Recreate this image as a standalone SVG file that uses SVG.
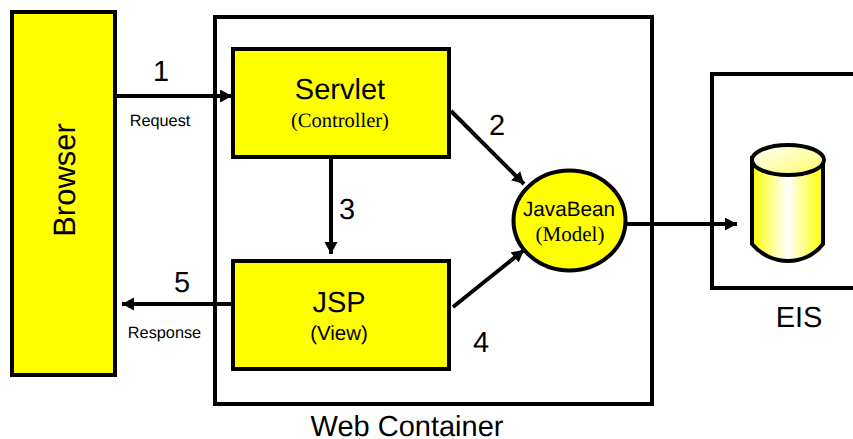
<svg xmlns="http://www.w3.org/2000/svg" width="853" height="439" viewBox="0 0 853 439">
<style>
.box{fill:#ff0;stroke:#000;stroke-width:4}
.frame{fill:none;stroke:#000;stroke-width:4}
.line{fill:none;stroke:#000;stroke-width:4}
text{font-family:"Liberation Sans",Arial,sans-serif;fill:#000;text-anchor:middle;text-rendering:geometricPrecision}
.serif{font-family:"Liberation Serif","Times New Roman",serif}
.big{font-size:29px}
.n{font-size:29px}
.small{font-size:16.3px}
</style>
<defs>
<linearGradient id="cyl" x1="0" x2="1" y1="0" y2="0">
<stop offset="0" stop-color="#ff0"/><stop offset="0.5" stop-color="#fff"/><stop offset="1" stop-color="#ff0"/>
</linearGradient>
<linearGradient id="cyltop" x1="0" x2="1" y1="0" y2="1">
<stop offset="0" stop-color="#fff"/><stop offset="1" stop-color="#ffff66"/>
</linearGradient>
<marker id="arr" markerUnits="userSpaceOnUse" markerWidth="14" markerHeight="14" refX="12" refY="6.5" orient="auto">
<path d="M0 0L12 6.5L0 13z" fill="#000"/>
</marker>
</defs>
<g id="browser"><rect class="box" x="12" y="12" width="103" height="363"/><text style="font-size:31px" transform="translate(75 180) rotate(-90)">Browser</text></g>
<g id="web-container"><rect class="frame" x="215" y="17" width="437" height="387"/><text class="big" x="407" y="436">Web Container</text></g>
<g id="eis"><path class="frame" d="M853 74H712V288H853"/><text class="big" x="799" y="327">EIS</text>
<path d="M752 158V244C762 256 776 261 788 261C800 261 814 256 823 244V158Z" fill="url(#cyl)" stroke="#000" stroke-width="4"/>
<ellipse cx="788" cy="160" rx="36" ry="15" fill="url(#cyltop)" stroke="#000" stroke-width="4"/></g>
<g id="connectors">
<path class="line" marker-end="url(#arr)" d="M115 96H232"/>
<path class="line" marker-end="url(#arr)" d="M451 111L524 184"/>
<path class="line" marker-end="url(#arr)" d="M331 157V254"/>
<path class="line" marker-end="url(#arr)" d="M453 307L524 250"/>
<path class="line" marker-end="url(#arr)" d="M233 304H122"/>
<path class="line" marker-end="url(#arr)" d="M626 224H737"/>
</g>
<g id="servlet"><rect class="box" x="233" y="49" width="216" height="108"/><text class="big" x="340" y="99">Servlet</text><text class="serif" font-size="20.5" x="340" y="127">(Controller)</text></g>
<g id="jsp"><rect class="box" x="233" y="261" width="216" height="108"/><text class="big" x="339" y="312">JSP</text><text font-size="20.5" x="339" y="340">(View)</text></g>
<g id="javabean"><ellipse cx="569.500" cy="220.500" rx="56" ry="50" fill="#ff0" stroke="#000" stroke-width="4"/><text font-size="20.700" x="569" y="216">JavaBean</text><text class="serif" font-size="21" x="570" y="241">(Model)</text></g>
<g id="labels">
<text class="n" x="161" y="81">1</text>
<text class="small" x="160" y="126">Request</text>
<text class="n" x="497" y="135">2</text>
<text class="n" x="347" y="219">3</text>
<text class="n" x="481" y="352">4</text>
<text class="n" x="182" y="292">5</text>
<text class="small" x="164.500" y="338">Response</text>
</g>
</svg>
